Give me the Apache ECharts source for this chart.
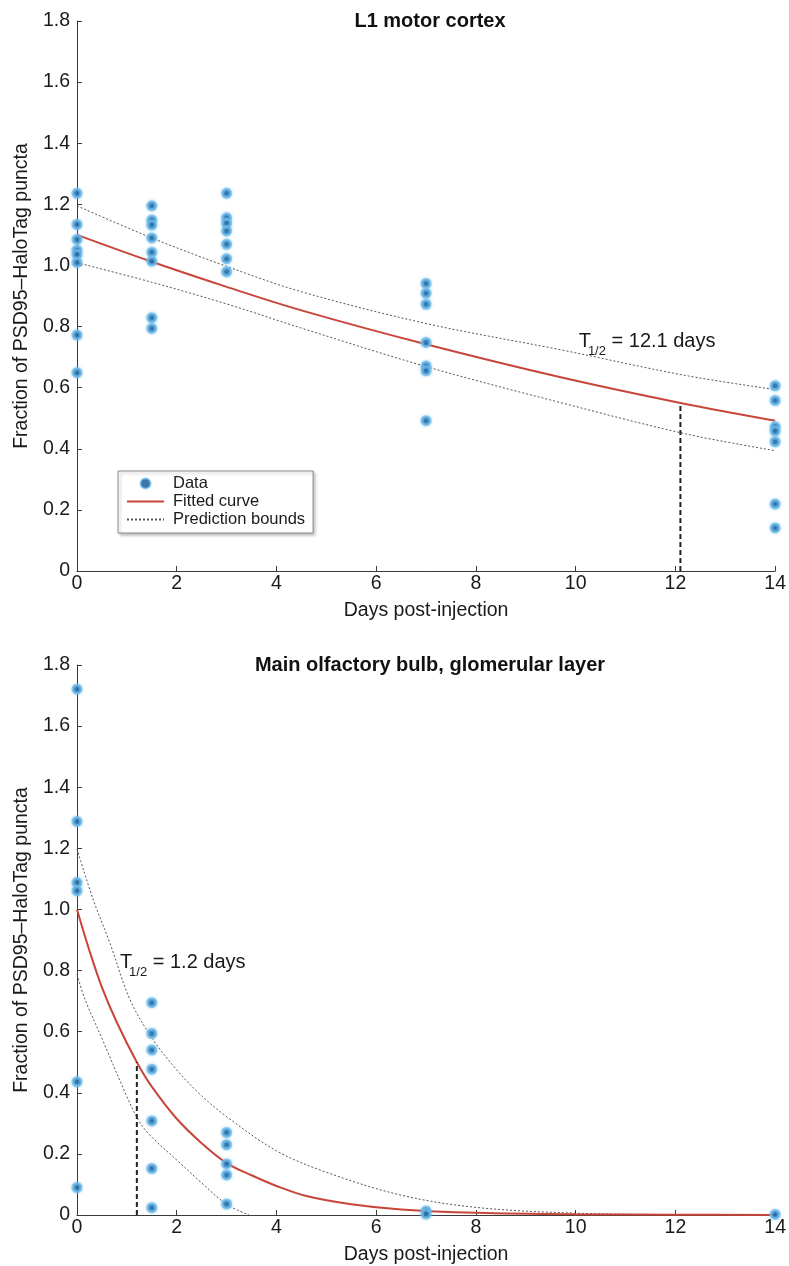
<!DOCTYPE html>
<html>
<head>
<meta charset="utf-8">
<script src="https://cdn.jsdelivr.net/npm/echarts@6/dist/echarts.min.js"></script>
<style>
  html, body { margin: 0; padding: 0; background: #ffffff; }
  #chart { width: 789px; height: 1266px; }
</style>
</head>
<body>
<div id="chart"></div>
<script>
// ---- L1 motor cortex ----
const l1Days = [0, 1.5, 3, 7, 14];
const l1Values = [
  [1.236, 1.134, 1.085, 1.050, 1.036, 1.010, 0.772, 0.649],
  [1.195, 1.149, 1.132, 1.090, 1.043, 1.014, 0.829, 0.794],
  [1.236, 1.156, 1.138, 1.113, 1.069, 1.022, 0.979],
  [0.941, 0.909, 0.873, 0.748, 0.671, 0.655, 0.492],
  [0.606, 0.558, 0.472, 0.458, 0.423, 0.219, 0.141]
];
const l1FitX = [0, 1.5, 3, 4.5, 7, 9.7, 12.1, 14];
const l1FitY = [1.10, 1.012, 0.93, 0.853, 0.742, 0.634, 0.55, 0.492];
const l1UpperX = [0, 1.5, 3, 4.5, 7, 9.7, 12.2, 14];
const l1UpperY = [1.195, 1.09, 0.997, 0.914, 0.81, 0.724, 0.64, 0.594];
const l1LowerX = [0, 1.5, 3, 4.5, 7, 9.7, 12.2, 14];
const l1LowerY = [1.009, 0.945, 0.874, 0.795, 0.669, 0.551, 0.449, 0.394];
const l1HalfLife = 12.1;
const l1HalfValue = 0.55;

// ---- Main olfactory bulb, glomerular layer ----
const mobDays = [0, 1.5, 3, 7, 14];
const mobValues = [
  [1.721, 1.288, 1.088, 1.061, 0.436, 0.090],
  [0.695, 0.594, 0.540, 0.477, 0.308, 0.152, 0.024],
  [0.270, 0.230, 0.167, 0.131, 0.036],
  [0.013, 0.003],
  [0.002]
];
const mobFitX = [0, 0.25, 0.5, 0.8, 1.2, 1.5, 2, 2.5, 3, 3.5, 4, 4.6, 5.5, 6.5, 8, 10, 12, 14];
const mobFitY = [1.0, 0.865, 0.745, 0.63, 0.5, 0.42, 0.315, 0.235, 0.17, 0.13, 0.095, 0.062, 0.035, 0.018, 0.007, 0.002, 0.001, 0];
const mobUpperX = [0, 0.33, 0.66, 1.06, 1.5, 2, 2.5, 3, 4, 5, 6.5, 8, 10, 12, 14];
const mobUpperY = [1.198, 1.03, 0.89, 0.706, 0.58, 0.475, 0.39, 0.322, 0.21, 0.14, 0.065, 0.025, 0.006, 0.001, 0];
const mobLowerX = [0, 0.16, 0.5, 1.0, 1.26, 1.5, 2, 2.5, 3, 3.45];
const mobLowerY = [0.787, 0.706, 0.578, 0.388, 0.303, 0.255, 0.18, 0.105, 0.035, 0];
const mobHalfLife = 1.2;
const mobHalfValue = 0.5;

// ---- axis ticks ----
const dayTicks = { min: 0, max: 14, interval: 2 };
const fracTicks = { min: 0, max: 1.8, interval: 0.2 };

const FONT = 'Liberation Sans, Arial, Helvetica, sans-serif';
const AXIS_COLOR = '#3a3a3a';
const TEXT_COLOR = '#1a1a1a';

function pairs(xs, ys) { return xs.map((x, i) => [x, ys[i]]); }
function groups(days, vals) {
  const out = [];
  days.forEach((d, i) => vals[i].forEach(v => out.push([d, v])));
  return out;
}

const grids = [
  { left: 77, top: 21, width: 700, height: 550 },
  { left: 77, top: 665, width: 700, height: 551 }
];

function xAxisFor(idx) {
  return {
    type: 'value', gridIndex: idx,
    min: dayTicks.min, max: dayTicks.max, interval: dayTicks.interval,
    name: 'Days post-injection', nameLocation: 'middle', nameGap: 30,
    nameTextStyle: { fontSize: 19.5, color: TEXT_COLOR, fontFamily: FONT },
    axisLine: { lineStyle: { color: AXIS_COLOR, width: 1 } },
    axisTick: { inside: true, length: 5, lineStyle: { color: AXIS_COLOR } },
    axisLabel: { fontSize: 19.5, color: TEXT_COLOR, fontFamily: FONT, margin: 3 },
    splitLine: { show: false }
  };
}
function yAxisFor(idx) {
  return {
    type: 'value', gridIndex: idx,
    min: fracTicks.min, max: fracTicks.max, interval: fracTicks.interval,
    name: 'Fraction of PSD95\u2013HaloTag puncta', nameLocation: 'middle', nameGap: 39,
    nameRotate: 90,
    nameTextStyle: { fontSize: 19.5, color: TEXT_COLOR, fontFamily: FONT },
    axisLine: { show: true, lineStyle: { color: AXIS_COLOR, width: 1 } },
    axisTick: { show: true, inside: true, length: 5, lineStyle: { color: AXIS_COLOR } },
    axisLabel: {
      fontSize: 19.5, color: TEXT_COLOR, fontFamily: FONT, margin: 7,
      formatter: v => (v === 0 ? '0' : v.toFixed(1))
    },
    splitLine: { show: false }
  };
}

const dataStyle = {
  color: '#0b5490',
  borderColor: 'rgba(108,186,234,0.9)',
  borderWidth: 3,
  shadowColor: 'rgba(108,186,234,0.7)',
  shadowBlur: 3
};
const fitStyle = { color: '#c8453a', width: 2 };
const boundStyle = { color: '#555555', width: 1, type: [2, 2] };
const halfStyle = { color: '#222222', width: 2, type: [5, 3] };

function panelSeries(idx, days, vals, fitX, fitY, upX, upY, loX, loY, hl, hv) {
  return [
    {
      name: 'Prediction bounds', type: 'line', xAxisIndex: idx, yAxisIndex: idx,
      data: pairs(upX, upY), symbol: 'none', showSymbol: false, smooth: 0.35,
      lineStyle: boundStyle, itemStyle: { color: '#555555' }, z: 2, silent: true
    },
    {
      name: 'Prediction bounds', type: 'line', xAxisIndex: idx, yAxisIndex: idx,
      data: pairs(loX, loY), symbol: 'none', showSymbol: false, smooth: 0.35,
      lineStyle: boundStyle, itemStyle: { color: '#555555' }, z: 2, silent: true
    },
    {
      name: 'Fitted curve', type: 'line', xAxisIndex: idx, yAxisIndex: idx,
      data: pairs(fitX, fitY), symbol: 'none', showSymbol: false, smooth: 0.35,
      lineStyle: fitStyle, itemStyle: { color: fitStyle.color }, z: 3, silent: true
    },
    {
      name: 'half-life', type: 'line', xAxisIndex: idx, yAxisIndex: idx,
      data: [[hl, 0], [hl, hv]], symbol: 'none',
      lineStyle: halfStyle, z: 3, silent: true
    },
    {
      name: 'Data', type: 'scatter', xAxisIndex: idx, yAxisIndex: idx,
      data: groups(days, vals), symbol: 'circle', symbolSize: 8,
      itemStyle: dataStyle, z: 5, silent: true
    }
  ];
}

const chart = echarts.init(document.getElementById('chart'), null, { renderer: 'canvas' });

const hiddenMarker = { opacity: 0 };

chart.setOption({
  animation: false,
  backgroundColor: '#ffffff',
  textStyle: { fontFamily: FONT },
  grid: grids,
  xAxis: [xAxisFor(0), xAxisFor(1)],
  yAxis: [yAxisFor(0), yAxisFor(1)],
  legend: {
    data: [
      { name: 'Data', icon: 'circle' },
      { name: 'Fitted curve', itemStyle: hiddenMarker },
      { name: 'Prediction bounds', itemStyle: hiddenMarker }
    ],
    orient: 'vertical', left: 118, top: 471,
    padding: [4, 8, 5, 8], itemGap: 1,
    itemWidth: 37, itemHeight: 10,
    backgroundColor: '#ffffff',
    borderColor: '#8a8a8a', borderWidth: 1,
    shadowColor: 'rgba(0,0,0,0.25)', shadowBlur: 3, shadowOffsetX: 2, shadowOffsetY: 2,
    textStyle: { fontSize: 16.5, color: TEXT_COLOR, fontFamily: FONT, lineHeight: 17, padding: [0, 0, 0, 4] },
    selectedMode: false
  },
  series: [
    ...panelSeries(0, l1Days, l1Values, l1FitX, l1FitY, l1UpperX, l1UpperY, l1LowerX, l1LowerY, l1HalfLife, l1HalfValue),
    ...panelSeries(1, mobDays, mobValues, mobFitX, mobFitY, mobUpperX, mobUpperY, mobLowerX, mobLowerY, mobHalfLife, mobHalfValue)
  ]
});

// Titles and half-life annotations (T with a 1/2 subscript)
const measureCtx = document.createElement('canvas').getContext('2d');
function textWidth(str, size, weight) {
  measureCtx.font = (weight || 'normal') + ' ' + size + 'px ' + FONT;
  return measureCtx.measureText(str).width;
}

function halfLifeLabel(gridIndex, anchor, hl) {
  const p = chart.convertToPixel({ gridIndex: gridIndex }, anchor);
  const main = 20, sub = 13;
  const tW = textWidth('T', main);
  const subX = p[0] + tW - 3;
  const subW = textWidth('1/2', sub);
  const restX = subX + subW;
  const base = { fill: TEXT_COLOR, fontFamily: FONT, verticalAlign: 'middle', align: 'left' };
  return [
    { type: 'text', x: p[0], y: p[1], style: Object.assign({ text: 'T', fontSize: main }, base) },
    { type: 'text', x: subX, y: p[1] + 10, style: Object.assign({ text: '1/2', fontSize: sub }, base) },
    { type: 'text', x: restX, y: p[1], style: Object.assign({ text: ' = ' + hl + ' days', fontSize: main }, base) }
  ];
}

function panelTitle(text, g) {
  return {
    type: 'text', x: g.left + g.width / 2 + 3, y: g.top,
    style: {
      text: text, fontSize: 20, fontWeight: 'bold', fill: '#111111', fontFamily: FONT,
      align: 'center', verticalAlign: 'middle'
    }
  };
}

chart.setOption({
  graphic: [
    panelTitle('L1 motor cortex', grids[0]),
    panelTitle('Main olfactory bulb, glomerular layer', grids[1]),
    ...halfLifeLabel(0, [10.06, 0.75], l1HalfLife),
    ...halfLifeLabel(1, [0.86, 0.827], mobHalfLife)
  ]
});
</script>
</body>
</html>
